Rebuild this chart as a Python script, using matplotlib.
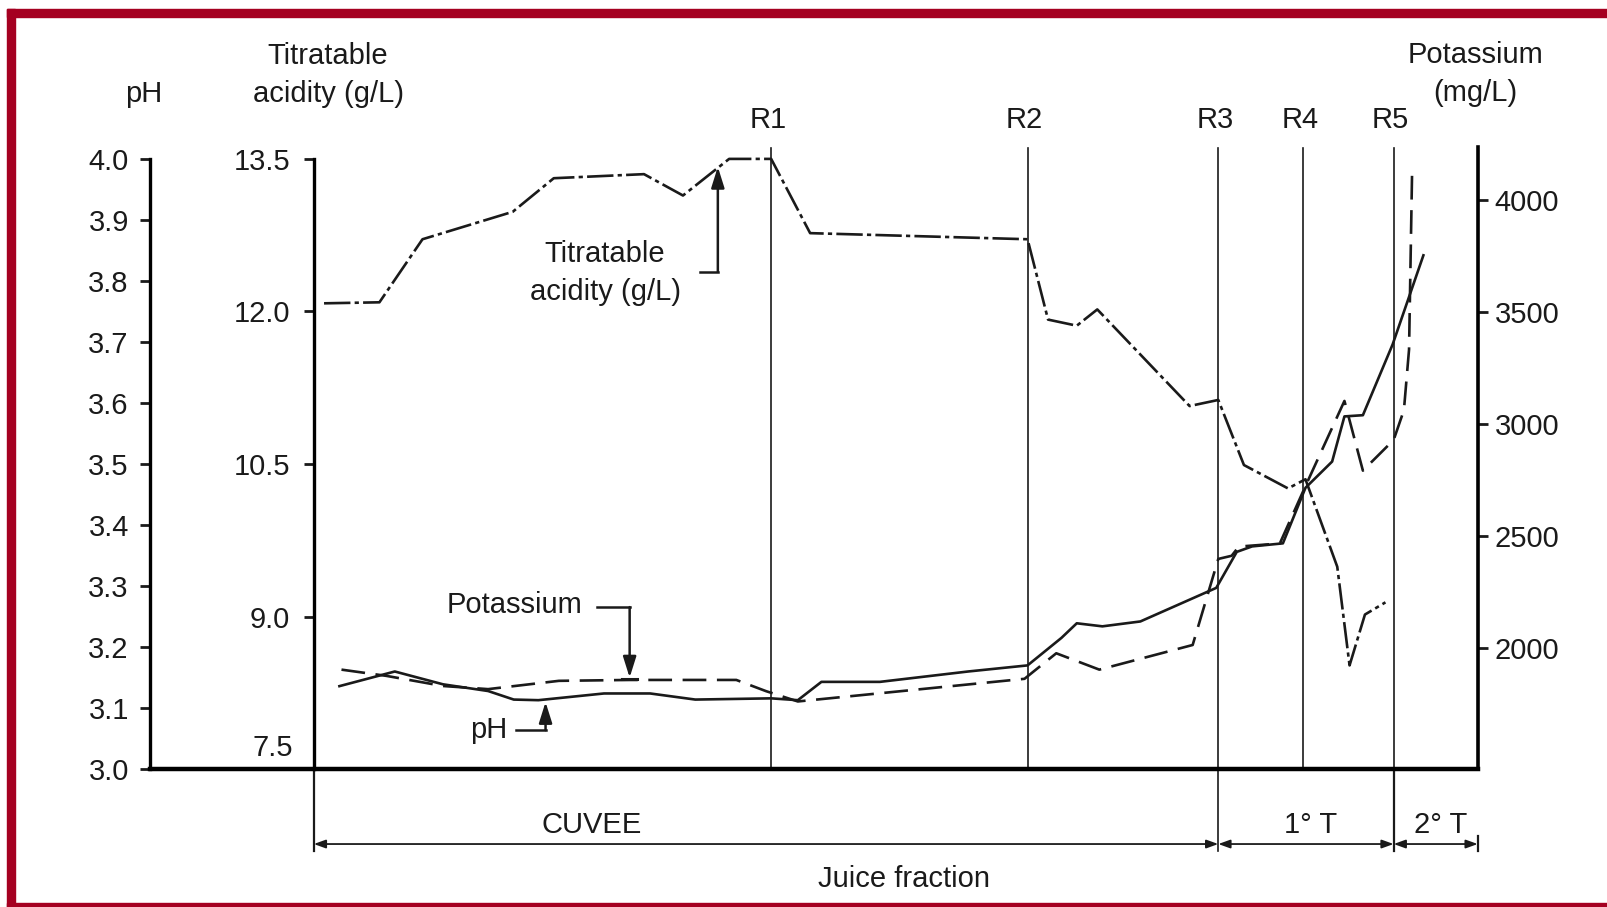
"""
Juice fraction chart: pH, titratable acidity and potassium across press cuts
"""

import matplotlib
matplotlib.use('Agg')
import matplotlib.pyplot as plt
from matplotlib.patches import Rectangle
from matplotlib.transforms import blended_transform_factory

plt.rcParams['font.family'] = ['Liberation Sans', 'DejaVu Sans']

INK = '#1a1a1a'
FRAME_RED = '#a50021'
FS = 21

# juice fraction position (arbitrary units along the press cycle)
ta_x = [1.0, 6.4, 10.6, 19.4, 23.4, 32.2, 36.0, 40.5, 44.6, 48.4, 69.6, 71.6,
        74.4, 76.4, 85.4, 88.2, 90.7, 95.0, 96.7, 99.8, 101.0, 102.5, 104.5]
ta_vals = [12.08, 12.09, 12.71, 12.98, 13.31, 13.35, 13.14, 13.50, 13.50, 12.77,
           12.71, 11.92, 11.86, 12.02, 11.07, 11.13, 10.49, 10.26, 10.35, 9.49,
           8.52, 9.02, 9.14]

ph_x = [2.5, 7.9, 12.6, 17.0, 19.5, 21.9, 28.3, 32.8, 37.2, 44.6, 47.2, 49.5,
        55.2, 63.8, 69.6, 72.9, 74.4, 76.9, 80.6, 88.0, 90.0, 91.5, 94.5, 96.7,
        99.3, 100.5, 102.3, 105.2, 108.2]
ph_vals = [3.136, 3.160, 3.139, 3.128, 3.114, 3.113, 3.124, 3.124, 3.114, 3.116,
           3.113, 3.143, 3.143, 3.160, 3.170, 3.215, 3.239, 3.234, 3.242, 3.297,
           3.356, 3.365, 3.370, 3.461, 3.504, 3.578, 3.580, 3.696, 3.842]

k_x = [2.7, 7.1, 12.6, 17.0, 23.9, 30.8, 41.2, 44.1, 47.2, 69.3, 72.4, 76.6,
       85.7, 88.2, 89.5, 90.2, 94.2, 96.7, 100.5, 102.3, 105.3, 106.3, 106.8, 107.1]
k_vals = [1904, 1876, 1831, 1817, 1854, 1858, 1858, 1808, 1762, 1863, 1977, 1904,
          2014, 2398, 2412, 2453, 2467, 2723, 3103, 2792, 2929, 3062, 3332, 4133]

# press cut markers
cut_names = ['R1', 'R2', 'R3', 'R4', 'R5']
cut_x = [44.6, 69.6, 88.2, 96.5, 105.3]

# axis ticks
ph_ticks = [3.0, 3.1, 3.2, 3.3, 3.4, 3.5, 3.6, 3.7, 3.8, 3.9, 4.0]
ta_ticks = [9.0, 10.5, 12.0, 13.5]
k_ticks = [2000, 2500, 3000, 3500, 4000]

# fraction brackets under the axis
x_start, x_end = 0.0, 113.5
fractions = [('CUVEE', 0.0, 88.2, 27.1), ('1° T', 88.2, 105.3, 97.2),
             ('2° T', 105.3, 113.5, 109.9)]

ph_lim = (3.0, 4.0202)
ta_lim = (7.5, 7.5 + 6 * (ph_lim[1] - 3.0))
k_lim = (1460, 4238)

fig = plt.figure(figsize=(16.08, 9.07), dpi=100)
ax = fig.add_axes([0.0931, 0.1520, 0.8259, 0.6864])
ax.set_xlim(-16, x_end)
ax.set_ylim(*ph_lim)
ax.patch.set_visible(False)

for side in ['top', 'right']:
    ax.spines[side].set_visible(False)
ax.spines['left'].set_bounds(3.0, 4.0)
ax.spines['left'].set_linewidth(2.4)
ax.spines['bottom'].set_linewidth(3.2)
ax.set_xticks([])
ax.set_yticks(ph_ticks)
ax.set_yticklabels([f'{t:.1f}' for t in ph_ticks])
ax.tick_params(axis='y', direction='out', length=7, width=2, pad=8,
               labelsize=FS, colors=INK)

# titratable acidity axis
ax_ta = ax.twinx()
ax_ta.set_ylim(*ta_lim)
for side in ['top', 'right', 'bottom']:
    ax_ta.spines[side].set_visible(False)
ax_ta.spines['left'].set_visible(True)
ax_ta.spines['left'].set_position(('axes', 0.12355))
ax_ta.spines['left'].set_bounds(7.5, 13.5)
ax_ta.spines['left'].set_linewidth(2.4)
ax_ta.yaxis.set_ticks_position('left')
ax_ta.set_yticks(ta_ticks)
ax_ta.set_yticklabels([f'{t:.1f}' for t in ta_ticks])
ax_ta.tick_params(axis='y', left=True, labelleft=True, right=False, labelright=False,
                  direction='out', length=7, width=2, pad=10, labelsize=FS, colors=INK)
ax_ta.text(-4.0, 7.5 + 6 * 0.034, '7.5', ha='center', va='center', fontsize=FS, color=INK)

# potassium axis
ax_k = ax.twinx()
ax_k.set_ylim(*k_lim)
for side in ['top', 'left', 'bottom']:
    ax_k.spines[side].set_visible(False)
ax_k.spines['right'].set_linewidth(2.6)
ax_k.set_yticks(k_ticks)
ax_k.set_yticklabels([str(t) for t in k_ticks])
ax_k.tick_params(axis='y', direction='out', length=7, width=2, pad=5,
                 labelsize=FS, colors=INK)

# cut lines
below = blended_transform_factory(ax.transData, ax.transAxes)
for name, cx in zip(cut_names, cut_x):
    ax.axvline(cx, ymin=0, ymax=0.997, color=INK, lw=1.2)
    ax.text(cx - 0.3, 1.043, name, transform=below, ha='center', va='center',
            fontsize=FS, color=INK)
for cx, lw in [(0.0, 1.6), (88.2, 1.2), (105.3, 1.6)]:
    ax.plot([cx, cx], [0, -0.132], transform=below, color=INK, lw=lw, clip_on=False)

# series
ax_ta.plot(ta_x, ta_vals, color=INK, lw=1.9, linestyle=(0, (10, 1.6, 1.6, 1.6)))
ax.plot(ph_x, ph_vals, color=INK, lw=1.9)
ax_k.plot(k_x, k_vals, color=INK, lw=1.9, linestyle=(0, (9, 4)))

# callouts
arrow = dict(arrowstyle='-|>,head_length=0.7,head_width=0.22', color=INK, lw=1.8,
             shrinkA=0, shrinkB=0, mutation_scale=18)
ax.text(28.4, 3.813, 'Titratable\nacidity (g/L)', ha='center', va='center',
        fontsize=FS, color=INK, linespacing=1.45)
ax.plot([37.7, 39.4], [3.815, 3.815], color=INK, lw=1.8)
ax.annotate('', xy=(39.4, 3.987), xytext=(39.4, 3.815), arrowprops=arrow)

ax.text(19.6, 3.269, 'Potassium', ha='center', va='center', fontsize=FS, color=INK)
ax.plot([27.6, 30.8], [3.2655, 3.2655], color=INK, lw=1.8)
ax.annotate('', xy=(30.8, 3.150), xytext=(30.8, 3.2655), arrowprops=arrow)
ax.plot([30.1, 31.5], [3.148, 3.148], color=INK, lw=2.2)

ax.text(17.1, 3.064, 'pH', ha='center', va='center', fontsize=FS, color=INK)
ax.plot([19.7, 22.6], [3.0639, 3.0639], color=INK, lw=1.8)
ax.annotate('', xy=(22.6, 3.110), xytext=(22.6, 3.0639), arrowprops=arrow)

# fraction brackets
bracket = dict(arrowstyle='<|-|>,head_length=0.5,head_width=0.18', color=INK, lw=1.3,
               shrinkA=0, shrinkB=0, mutation_scale=14)
for label, x0, x1, xt in fractions:
    ax.annotate('', xy=(x1, -0.1203), xytext=(x0, -0.1203), xycoords=below,
                textcoords=below, arrowprops=bracket, annotation_clip=False)
    ax.text(xt, -0.089, label, transform=below, ha='center', va='center',
            fontsize=FS, color=INK)
ax.plot([x_end, x_end], [-0.108, -0.132], transform=below, color=INK, lw=1.6,
        clip_on=False)
ax.text(57.6, -0.176, 'Juice fraction', transform=below, ha='center', va='center',
        fontsize=FS, color=INK)

# axis headers
ax.text(-16.6, 1.084, 'pH', transform=below, ha='center', va='center',
        fontsize=FS, color=INK)
ax.text(1.4, 1.115, 'Titratable\nacidity (g/L)', transform=below, ha='center',
        va='center', fontsize=FS, color=INK, linespacing=1.45)
ax.text(113.3, 1.117, 'Potassium\n(mg/L)', transform=below, ha='center',
        va='center', fontsize=FS, color=INK, linespacing=1.45)

# red frame (top, left, bottom)
fig.patches.append(Rectangle((0.00435, 0.98126), 0.99565, 0.00882,
                             transform=fig.transFigure, color=FRAME_RED, zorder=10))
fig.patches.append(Rectangle((0.00435, 0.0), 0.00498, 0.99008,
                             transform=fig.transFigure, color=FRAME_RED, zorder=10))
fig.patches.append(Rectangle((0.00435, 0.0), 0.99565, 0.0044,
                             transform=fig.transFigure, color=FRAME_RED, zorder=10))

fig.savefig('out.png', dpi=100)
plt.close(fig)
